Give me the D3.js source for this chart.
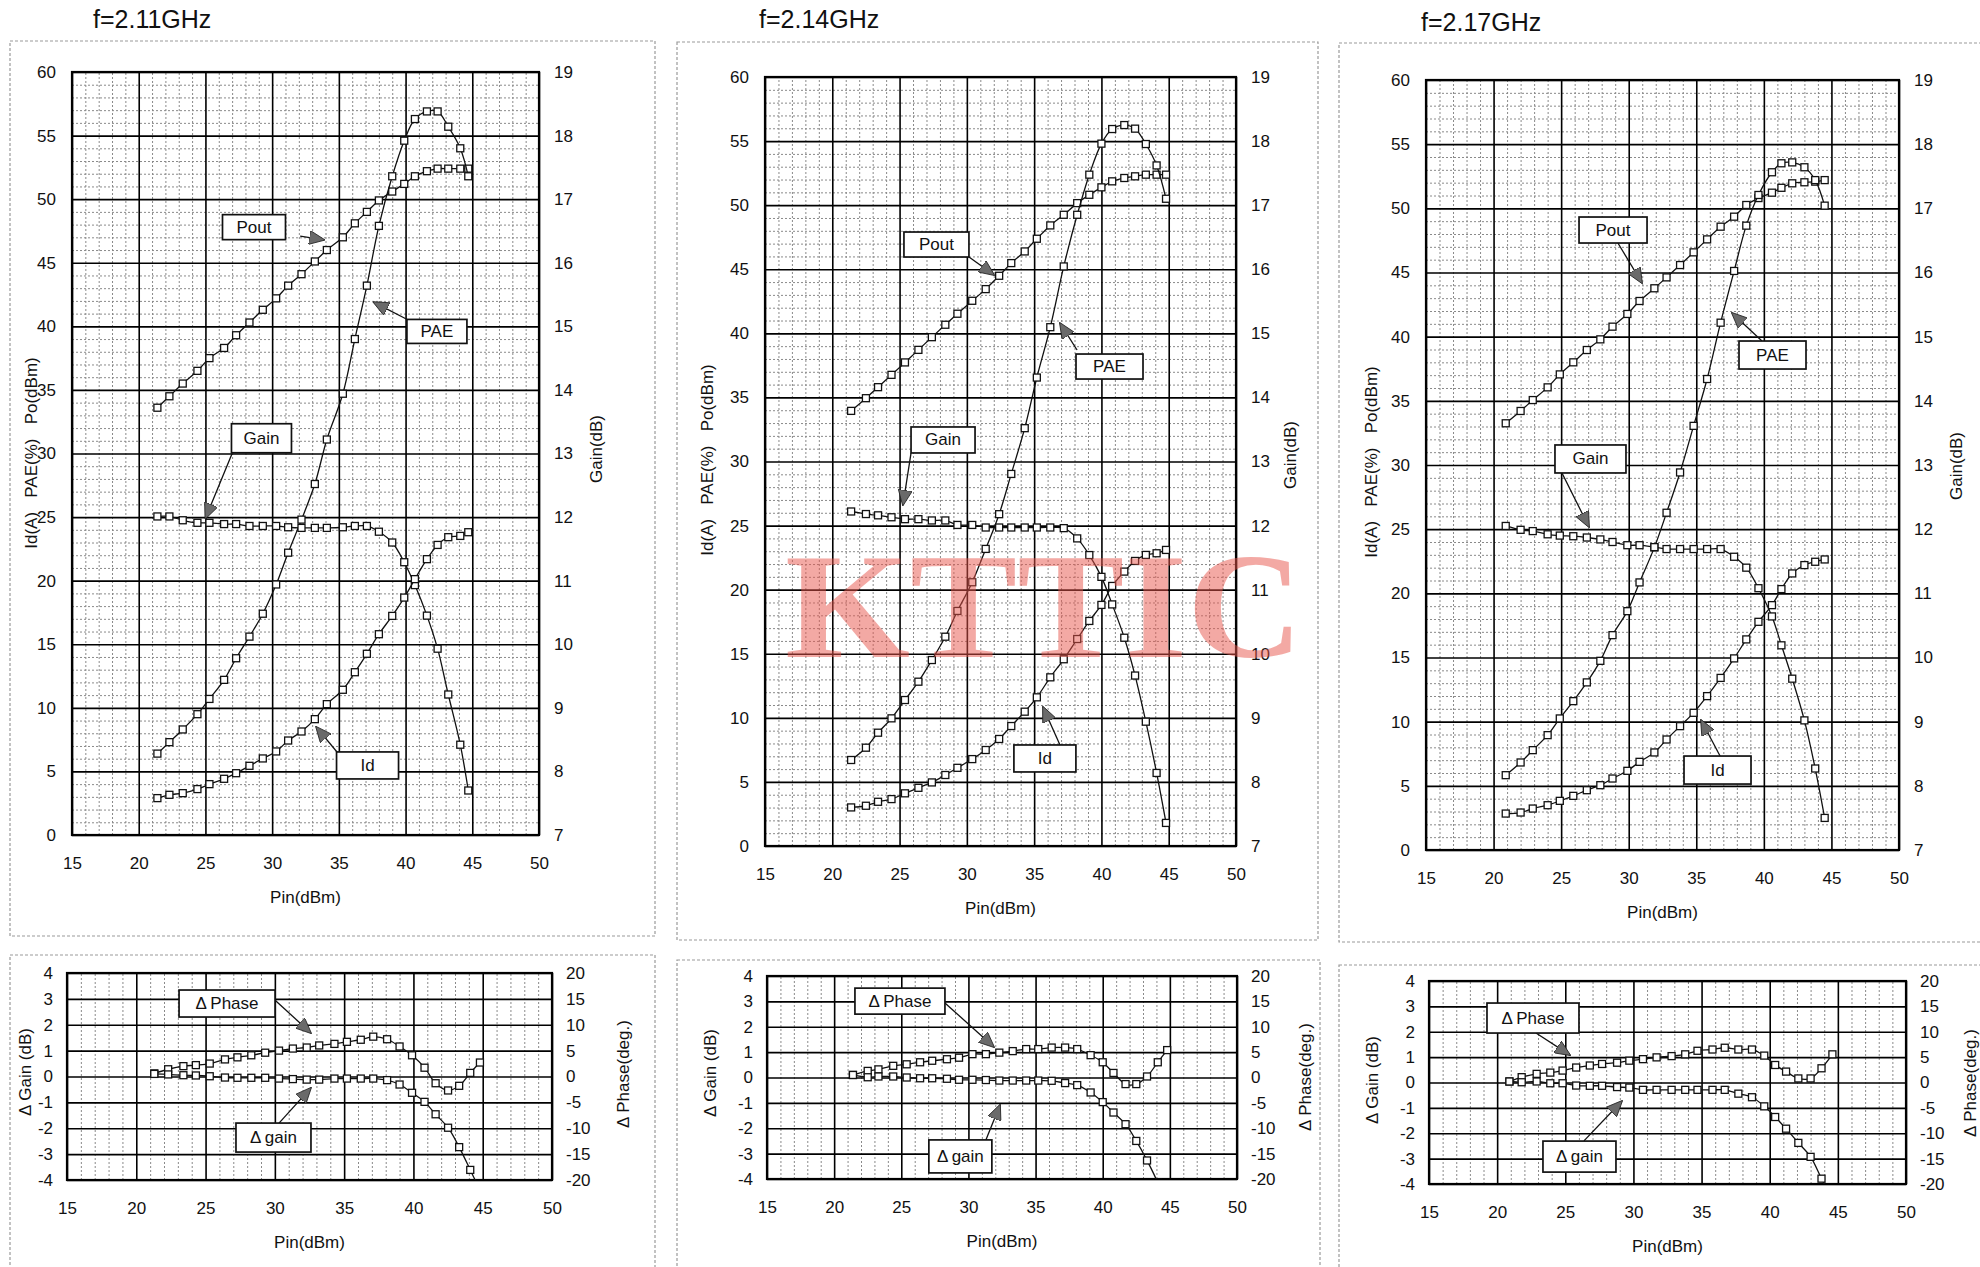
<!DOCTYPE html>
<html>
<head>
<meta charset="utf-8">
<script src="https://cdn.jsdelivr.net/npm/d3@7"></script>
<style>
  body { margin: 0; background: #fff; }
  text { fill: #111; }
</style>
</head>
<body>
<svg id="chart" width="1980" height="1267" font-family='"Liberation Sans", Arial, sans-serif'></svg>
<script>
// ---- f = 2.11 GHz ----
const pin211 = [21.4, 22.3, 23.3, 24.4, 25.3, 26.4, 27.3, 28.3, 29.3, 30.3, 31.2, 32.2, 33.2, 34.1, 35.3, 36.2, 37.1, 38.0, 39.0, 39.9, 40.7, 41.6, 42.4, 43.2, 44.1, 44.7];
const pout211 = [33.6, 34.5, 35.5, 36.5, 37.5, 38.3, 39.3, 40.3, 41.3, 42.2, 43.2, 44.1, 45.1, 46.0, 47.0, 48.1, 49.0, 49.9, 50.6, 51.2, 51.8, 52.2, 52.4, 52.4, 52.4, 52.4];
const pae211 = [6.4, 7.3, 8.3, 9.5, 10.7, 12.2, 13.9, 15.6, 17.4, 19.7, 22.2, 24.8, 27.6, 31.1, 34.7, 39.0, 43.2, 47.9, 51.8, 54.6, 56.3, 56.9, 56.9, 55.7, 54.0, 51.8];
const gain211 = [12.01, 12.01, 11.95, 11.91, 11.91, 11.89, 11.89, 11.86, 11.86, 11.86, 11.84, 11.83, 11.83, 11.83, 11.84, 11.86, 11.86, 11.77, 11.6, 11.29, 10.93, 10.45, 9.93, 9.21, 8.42, 7.7];
const id211 = [2.9, 3.16, 3.29, 3.61, 4.0, 4.42, 4.86, 5.44, 6.02, 6.57, 7.43, 8.14, 9.11, 10.29, 11.42, 12.8, 14.25, 15.79, 17.23, 18.67, 20.12, 21.69, 22.81, 23.42, 23.52, 23.81];
const dpin211 = [21.3, 22.3, 23.4, 24.3, 25.3, 26.4, 27.3, 28.3, 29.3, 30.3, 31.3, 32.3, 33.2, 34.3, 35.2, 36.2, 37.1, 38.1, 39.0, 39.9, 40.8, 41.6, 42.5, 43.3, 44.1, 44.8];
const dphase211 = [0.6, 1.4, 2.0, 2.2, 2.5, 3.3, 3.7, 4.1, 4.6, 5.0, 5.4, 5.6, 6.0, 6.3, 6.7, 7.1, 7.7, 7.2, 5.8, 4.1, 1.7, -1.3, -2.7, -1.8, 0.7, 2.7];
const dgain211 = [0.1, 0.08, 0.05, 0.04, 0.01, -0.04, -0.05, -0.05, -0.05, -0.08, -0.1, -0.12, -0.12, -0.08, -0.08, -0.08, -0.08, -0.14, -0.31, -0.63, -0.98, -1.46, -1.98, -2.73, -3.61, -4.4];

// ---- f = 2.14 GHz ----
const pin214 = [21.4, 22.5, 23.4, 24.4, 25.4, 26.4, 27.4, 28.4, 29.3, 30.4, 31.4, 32.4, 33.3, 34.3, 35.2, 36.2, 37.2, 38.2, 39.1, 40.0, 40.8, 41.7, 42.5, 43.3, 44.1, 44.8];
const pout214 = [33.95, 34.94, 35.8, 36.76, 37.73, 38.71, 39.7, 40.67, 41.53, 42.54, 43.45, 44.49, 45.48, 46.39, 47.38, 48.42, 49.25, 50.16, 50.81, 51.39, 51.86, 52.12, 52.25, 52.38, 52.38, 52.38];
const pae214 = [6.71, 7.67, 8.84, 9.96, 11.39, 12.82, 14.51, 16.33, 18.34, 20.58, 23.18, 25.89, 29.03, 32.6, 36.55, 40.48, 45.22, 49.25, 52.38, 54.8, 55.94, 56.25, 55.97, 54.77, 53.1, 50.5];
const gain214 = [12.22, 12.18, 12.16, 12.13, 12.1, 12.1, 12.08, 12.08, 12.01, 12.01, 11.97, 11.97, 11.97, 11.97, 11.97, 11.97, 11.96, 11.8, 11.54, 11.2, 10.77, 10.25, 9.66, 8.94, 8.14, 7.36];
const id214 = [3.01, 3.14, 3.45, 3.66, 4.11, 4.54, 4.96, 5.54, 6.1, 6.78, 7.49, 8.35, 9.36, 10.48, 11.6, 13.16, 14.57, 16.15, 17.56, 18.81, 20.29, 21.41, 22.24, 22.71, 22.84, 23.1];
const dpin214 = [21.4, 22.5, 23.3, 24.4, 25.4, 26.4, 27.3, 28.4, 29.3, 30.3, 31.3, 32.3, 33.3, 34.3, 35.2, 36.2, 37.2, 38.1, 39.1, 40.0, 40.8, 41.7, 42.5, 43.3, 44.1, 44.8];
const dphase214 = [0.5, 1.3, 1.6, 2.3, 2.6, 3.0, 3.3, 3.6, 3.9, 4.6, 4.6, 4.9, 5.2, 5.6, 5.6, 5.9, 5.9, 5.6, 4.4, 3.0, 0.9, -1.3, -1.3, 0.2, 3.0, 5.4];
const dgain214 = [0.1, 0.01, 0.04, 0.04, 0, -0.03, -0.03, -0.05, -0.09, -0.09, -0.1, -0.12, -0.12, -0.12, -0.12, -0.13, -0.22, -0.3, -0.59, -0.97, -1.38, -1.84, -2.5, -3.27, -4.15, -5.2];

// ---- f = 2.17 GHz ----
const pin217 = [20.9, 22.0, 22.9, 24.0, 24.9, 25.9, 26.9, 27.9, 28.8, 29.9, 30.8, 31.9, 32.8, 33.8, 34.8, 35.8, 36.8, 37.8, 38.7, 39.6, 40.6, 41.3, 42.1, 43.0, 43.8, 44.5];
const pout217 = [33.25, 34.21, 35.06, 36.05, 37.06, 38.0, 38.96, 39.79, 40.78, 41.77, 42.78, 43.77, 44.62, 45.58, 46.57, 47.58, 48.57, 49.35, 50.26, 50.8, 51.22, 51.6, 51.95, 52.03, 52.08, 52.2];
const pae217 = [5.83, 6.82, 7.78, 8.95, 10.25, 11.6, 13.06, 14.74, 16.74, 18.61, 20.85, 23.58, 26.28, 29.42, 33.05, 36.7, 41.09, 45.12, 48.65, 51.04, 52.81, 53.51, 53.58, 53.2, 52.2, 50.21];
const gain217 = [12.05, 11.99, 11.97, 11.92, 11.9, 11.89, 11.87, 11.84, 11.8, 11.75, 11.75, 11.72, 11.69, 11.69, 11.69, 11.69, 11.69, 11.57, 11.4, 11.08, 10.64, 10.19, 9.67, 9.02, 8.27, 7.5];
const id217 = [2.84, 2.92, 3.23, 3.49, 3.83, 4.22, 4.66, 5.05, 5.57, 6.17, 6.87, 7.6, 8.61, 9.65, 10.69, 11.99, 13.41, 14.93, 16.41, 17.78, 19.08, 20.33, 21.55, 22.2, 22.46, 22.64];
const dpin217 = [20.9, 21.8, 22.9, 23.9, 24.8, 25.8, 26.8, 27.7, 28.8, 29.7, 30.7, 31.7, 32.8, 33.8, 34.7, 35.8, 36.7, 37.7, 38.7, 39.6, 40.4, 41.2, 42.1, 43.0, 43.8, 44.6];
const dphase217 = [0.2, 1.05, 1.7, 1.95, 2.35, 2.95, 3.35, 3.65, 3.9, 4.3, 4.6, 4.95, 5.2, 5.55, 6.25, 6.5, 6.85, 6.5, 6.5, 5.3, 3.45, 2.15, 0.8, 0.8, 2.8, 5.55];
const dgain217 = [0.04, 0.01, 0.04, -0.03, -0.03, -0.12, -0.13, -0.13, -0.18, -0.2, -0.29, -0.29, -0.29, -0.29, -0.29, -0.29, -0.29, -0.44, -0.58, -0.94, -1.36, -1.82, -2.38, -2.93, -3.79, -4.6];

// tick labels
const pinTicks = [15, 20, 25, 30, 35, 40, 45, 50];
const leftTicks = [0, 5, 10, 15, 20, 25, 30, 35, 40, 45, 50, 55, 60];
const gainTicks = [7, 8, 9, 10, 11, 12, 13, 14, 15, 16, 17, 18, 19];
const dGainTicks = [-4, -3, -2, -1, 0, 1, 2, 3, 4];
const dPhaseTicks = [-20, -15, -10, -5, 0, 5, 10, 15, 20];

// callout labels, in data units of each chart (Pin, left axis)
const notes211 = [
  {text: 'Pout', at: [28.64, 47.8], from: [32.1, 47.1], to: [33.9, 46.8], w: 63, h: 25},
  {text: 'PAE', at: [42.35, 39.6], from: [40.2, 40.5], to: [37.6, 41.9], w: 60, h: 24},
  {text: 'Gain', at: [29.2, 31.2], from: [27.0, 30.0], to: [25.0, 24.9], w: 60, h: 29},
  {text: 'Id', at: [37.15, 5.47], from: [34.86, 6.53], to: [33.3, 8.5], w: 62, h: 27}
];
const dnotes211 = [
  {text: 'Δ\u2009Phase', at: [26.55, 2.82], from: [30.0, 2.96], to: [32.6, 1.68], w: 96, h: 27},
  {text: 'Δ\u2009gain', at: [29.9, -2.36], from: [30.3, -1.8], to: [32.6, -0.44], w: 75, h: 29}
];
const notes214 = [
  {text: 'Pout', at: [27.74, 46.93], from: [30.16, 45.95], to: [32.02, 44.55], w: 65, h: 25},
  {text: 'PAE', at: [40.6, 37.41], from: [38.19, 38.7], to: [36.92, 40.8], w: 67, h: 25},
  {text: 'Gain', at: [28.23, 31.68], from: [25.85, 30.66], to: [25.25, 26.6], w: 64, h: 26},
  {text: 'Id', at: [35.8, 6.83], from: [36.92, 7.88], to: [35.66, 10.85], w: 62, h: 27}
];
const dnotes214 = [
  {text: 'Δ\u2009Phase', at: [24.9, 3.01], from: [28.25, 2.94], to: [31.9, 1.2], w: 90, h: 26},
  {text: 'Δ\u2009gain', at: [29.4, -3.11], from: [31.3, -2.46], to: [32.35, -1.08], w: 63, h: 33}
];
const notes217 = [
  {text: 'Pout', at: [28.84, 48.31], from: [29.2, 47.3], to: [30.98, 44.18], w: 68, h: 26},
  {text: 'PAE', at: [40.64, 38.57], from: [39.86, 39.66], to: [37.64, 41.85], w: 67, h: 28},
  {text: 'Gain', at: [27.17, 30.47], from: [25.06, 29.38], to: [27.06, 25.17], w: 71, h: 28},
  {text: 'Id', at: [36.57, 6.23], from: [36.76, 7.32], to: [35.35, 10.13], w: 67, h: 28}
];
const dnotes217 = [
  {text: 'Δ\u2009Phase', at: [22.63, 2.54], from: [22.85, 1.95], to: [25.35, 1.08], w: 92, h: 30},
  {text: 'Δ\u2009gain', at: [26.04, -2.92], from: [26.37, -2.3], to: [29.16, -0.73], w: 73, h: 31}
];

const FONT = '"Liberation Sans", Arial, sans-serif';

const panels = [
  {
    title: 'f=2.11GHz', titlePos: [93, 28],
    frames: [[10, 41, 655, 936], [10, 955, 655, 1290]],
    top: [72, 539, 72, 835], bot: [67, 552, 973, 1180],
    lt: [31, 453], rt: [596, 449], bl: [25, 1072], br: [623, 1074],
    pin: pin211, pout: pout211, pae: pae211, gain: gain211, id: id211,
    dpin: dpin211, dphase: dphase211, dgain: dgain211,
    notes: notes211, dnotes: dnotes211
  },
  {
    title: 'f=2.14GHz', titlePos: [759, 28],
    frames: [[677, 42, 1318, 940], [677, 960, 1320, 1290]],
    top: [765, 1236, 77, 846], bot: [767, 1237, 976, 1179],
    lt: [707, 460], rt: [1290, 455], bl: [710, 1073], br: [1305, 1077],
    pin: pin214, pout: pout214, pae: pae214, gain: gain214, id: id214,
    dpin: dpin214, dphase: dphase214, dgain: dgain214,
    notes: notes214, dnotes: dnotes214
  },
  {
    title: 'f=2.17GHz', titlePos: [1421, 31],
    frames: [[1339, 43, 1990, 942], [1339, 965, 1990, 1290]],
    top: [1426, 1899, 80, 850], bot: [1429, 1906, 981, 1184],
    lt: [1371, 462], rt: [1956, 466], bl: [1372, 1080], br: [1970, 1083],
    pin: pin217, pout: pout217, pae: pae217, gain: gain217, id: id217,
    dpin: dpin217, dphase: dphase217, dgain: dgain217,
    notes: notes217, dnotes: dnotes217
  }
];

const svg = d3.select('#chart');
const defs = svg.append('defs');

defs.append('marker')
    .attr('id', 'arrowHead')
    .attr('viewBox', '0 0 16 14')
    .attr('refX', 15)
    .attr('refY', 7)
    .attr('markerWidth', 16)
    .attr('markerHeight', 14)
    .attr('markerUnits', 'userSpaceOnUse')
    .attr('orient', 'auto')
    .append('path')
    .attr('d', 'M0,0 L16,7 L0,14 Z')
    .attr('fill', '#6a6a6a')
    .attr('stroke', '#222')
    .attr('stroke-width', 0.8);

const minorStyle = sel => {
    sel.select('.domain').remove();
    sel.selectAll('line').attr('stroke', '#8a8a8a').attr('stroke-width', 1).attr('stroke-dasharray', '2,2');
};
const majorStyle = sel => {
    sel.select('.domain').remove();
    sel.selectAll('line').attr('stroke', '#000').attr('stroke-width', 1.6);
};
const labelStyle = sel => {
    sel.select('.domain').remove();
    sel.attr('font-size', 17).attr('font-family', FONT);
    sel.selectAll('text').attr('fill', '#111');
};

const lineGen = (x, y) => d3.line()
    .x(d => x(d[0]))
    .y(d => y(d[1]))
    .curve(d3.curveCatmullRom.alpha(0.5));

let clipCount = 0;

function addClip(x0, x1, y0, y1) {
    const id = `clip${clipCount++}`;
    defs.append('clipPath').attr('id', id)
        .append('rect').attr('x', x0).attr('y', y0).attr('width', x1 - x0).attr('height', y1 - y0);
    return id;
}

function vText(root, pos, txt) {
    root.append('text')
        .attr('transform', `translate(${pos[0]},${pos[1]}) rotate(-90)`)
        .attr('text-anchor', 'middle')
        .attr('dominant-baseline', 'central')
        .attr('font-size', 17)
        .style('white-space', 'pre')
        .text(txt);
}

function drawSeries(root, xs, ys, x, y, clipId) {
    const pts = xs.map((v, i) => [v, ys[i]]);
    const g = root.append('g').attr('clip-path', `url(#${clipId})`);
    g.append('path')
        .datum(pts)
        .attr('d', lineGen(x, y))
        .attr('fill', 'none')
        .attr('stroke', '#111')
        .attr('stroke-width', 1.3);
    g.selectAll('rect')
        .data(pts)
        .enter()
        .append('rect')
        .attr('x', d => x(d[0]) - 3.5)
        .attr('y', d => y(d[1]) - 3.5)
        .attr('width', 7)
        .attr('height', 7)
        .attr('fill', '#fff')
        .attr('stroke', '#111')
        .attr('stroke-width', 1.3);
}

function drawNotes(root, notes, x, y) {
    notes.forEach(n => {
        root.append('line')
            .attr('x1', x(n.from[0]))
            .attr('y1', y(n.from[1]))
            .attr('x2', x(n.to[0]))
            .attr('y2', y(n.to[1]))
            .attr('stroke', '#111')
            .attr('stroke-width', 1.3)
            .attr('marker-end', 'url(#arrowHead)');
        const cx = x(n.at[0]);
        const cy = y(n.at[1]);
        root.append('rect')
            .attr('x', cx - n.w / 2)
            .attr('y', cy - n.h / 2)
            .attr('width', n.w)
            .attr('height', n.h)
            .attr('fill', '#fff')
            .attr('stroke', '#111')
            .attr('stroke-width', 1.7);
        root.append('text')
            .attr('x', cx)
            .attr('y', cy)
            .attr('text-anchor', 'middle')
            .attr('dominant-baseline', 'central')
            .attr('font-size', 17)
            .text(n.text);
    });
}

function drawTop(root, p) {
    const [x0, x1, y0, y1] = p.top;
    const x = d3.scaleLinear().domain([15, 50]).range([x0, x1]);
    const yL = d3.scaleLinear().domain([0, 60]).range([y1, y0]);
    const yR = d3.scaleLinear().domain([7, 19]).range([y1, y0]);

    root.append('rect').attr('x', x0).attr('y', y0).attr('width', x1 - x0).attr('height', y1 - y0).attr('fill', '#fff');

    root.append('g').attr('transform', `translate(0,${y1})`)
        .call(d3.axisBottom(x).tickValues(d3.range(16, 50).filter(v => v % 5)).tickSize(-(y1 - y0)).tickFormat(''))
        .call(minorStyle);
    root.append('g').attr('transform', `translate(${x0},0)`)
        .call(d3.axisLeft(yL).tickValues(d3.range(1, 60).filter(v => v % 5)).tickSize(-(x1 - x0)).tickFormat(''))
        .call(minorStyle);
    root.append('g').attr('transform', `translate(0,${y1})`)
        .call(d3.axisBottom(x).tickValues(pinTicks).tickSize(-(y1 - y0)).tickFormat(''))
        .call(majorStyle);
    root.append('g').attr('transform', `translate(${x0},0)`)
        .call(d3.axisLeft(yL).tickValues(leftTicks).tickSize(-(x1 - x0)).tickFormat(''))
        .call(majorStyle);
    root.append('rect').attr('x', x0).attr('y', y0).attr('width', x1 - x0).attr('height', y1 - y0)
        .attr('fill', 'none').attr('stroke', '#000').attr('stroke-width', 2.2);

    root.append('g').attr('transform', `translate(${x0},0)`)
        .call(d3.axisLeft(yL).tickValues(leftTicks).tickSize(0).tickPadding(16).tickFormat(d3.format('d')))
        .call(labelStyle);
    root.append('g').attr('transform', `translate(${x1},0)`)
        .call(d3.axisRight(yR).tickValues(gainTicks).tickSize(0).tickPadding(15).tickFormat(d3.format('d')))
        .call(labelStyle);
    root.append('g').attr('transform', `translate(0,${y1})`)
        .call(d3.axisBottom(x).tickValues(pinTicks).tickSize(0).tickPadding(22).tickFormat(d3.format('d')))
        .call(labelStyle);

    vText(root, p.lt, 'Id(A)   PAE(%)   Po(dBm)');
    vText(root, p.rt, 'Gain(dB)');
    root.append('text')
        .attr('x', (x0 + x1) / 2).attr('y', y1 + 62)
        .attr('text-anchor', 'middle').attr('dominant-baseline', 'central')
        .attr('font-size', 17).text('Pin(dBm)');

    const clipId = addClip(x0, x1, y0, y1);
    drawSeries(root, p.pin, p.pout, x, yL, clipId);
    drawSeries(root, p.pin, p.pae, x, yL, clipId);
    drawSeries(root, p.pin, p.gain, x, yR, clipId);
    drawSeries(root, p.pin, p.id, x, yL, clipId);
    drawNotes(root, p.notes, x, yL);
}

function drawBottom(root, p) {
    const [x0, x1, y0, y1] = p.bot;
    const x = d3.scaleLinear().domain([15, 50]).range([x0, x1]);
    const yL = d3.scaleLinear().domain([-4, 4]).range([y1, y0]);
    const yR = d3.scaleLinear().domain([-20, 20]).range([y1, y0]);

    root.append('rect').attr('x', x0).attr('y', y0).attr('width', x1 - x0).attr('height', y1 - y0).attr('fill', '#fff');

    root.append('g').attr('transform', `translate(0,${y1})`)
        .call(d3.axisBottom(x).tickValues(d3.range(16, 50).filter(v => v % 5)).tickSize(-(y1 - y0)).tickFormat(''))
        .call(minorStyle);
    root.append('g').attr('transform', `translate(0,${y1})`)
        .call(d3.axisBottom(x).tickValues(pinTicks).tickSize(-(y1 - y0)).tickFormat(''))
        .call(majorStyle);
    root.append('g').attr('transform', `translate(${x0},0)`)
        .call(d3.axisLeft(yL).tickValues(dGainTicks).tickSize(-(x1 - x0)).tickFormat(''))
        .call(majorStyle);
    root.append('rect').attr('x', x0).attr('y', y0).attr('width', x1 - x0).attr('height', y1 - y0)
        .attr('fill', 'none').attr('stroke', '#000').attr('stroke-width', 2.2);

    root.append('g').attr('transform', `translate(${x0},0)`)
        .call(d3.axisLeft(yL).tickValues(dGainTicks).tickSize(0).tickPadding(14).tickFormat(d => String(d)))
        .call(labelStyle);
    root.append('g').attr('transform', `translate(${x1},0)`)
        .call(d3.axisRight(yR).tickValues(dPhaseTicks).tickSize(0).tickPadding(14).tickFormat(d => String(d)))
        .call(labelStyle);
    root.append('g').attr('transform', `translate(0,${y1})`)
        .call(d3.axisBottom(x).tickValues(pinTicks).tickSize(0).tickPadding(22).tickFormat(d3.format('d')))
        .call(labelStyle);

    vText(root, p.bl, 'Δ Gain (dB)');
    vText(root, p.br, 'Δ Phase(deg.)');
    root.append('text')
        .attr('x', (x0 + x1) / 2).attr('y', y1 + 62)
        .attr('text-anchor', 'middle').attr('dominant-baseline', 'central')
        .attr('font-size', 17).text('Pin(dBm)');

    const clipId = addClip(x0, x1, y0, y1);
    drawSeries(root, p.dpin, p.dphase, x, yR, clipId);
    drawSeries(root, p.dpin, p.dgain, x, yL, clipId);
    drawNotes(root, p.dnotes, x, yL);
}

panels.forEach(p => {
    const g = svg.append('g');
    p.frames.forEach(f => {
        g.append('rect')
            .attr('x', f[0]).attr('y', f[1])
            .attr('width', f[2] - f[0]).attr('height', f[3] - f[1])
            .attr('fill', 'none')
            .attr('stroke', '#9a9a9a')
            .attr('stroke-width', 1.2)
            .attr('stroke-dasharray', '3,2');
    });
    g.append('text')
        .attr('x', p.titlePos[0]).attr('y', p.titlePos[1])
        .attr('font-size', 25)
        .text(p.title);
    drawTop(g, p);
    drawBottom(g, p);
});

// watermark over the middle panel
svg.append('text')
    .attr('x', 785)
    .attr('y', 657)
    .style('font-family', '"Liberation Serif", "DejaVu Serif", serif')
    .style('font-weight', 'bold')
    .attr('font-size', 150)
    .attr('textLength', 518)
    .attr('lengthAdjust', 'spacingAndGlyphs')
    .style('fill', '#e9564c')
    .style('opacity', 0.5)
    .text('KTTIC');
</script>
</body>
</html>
